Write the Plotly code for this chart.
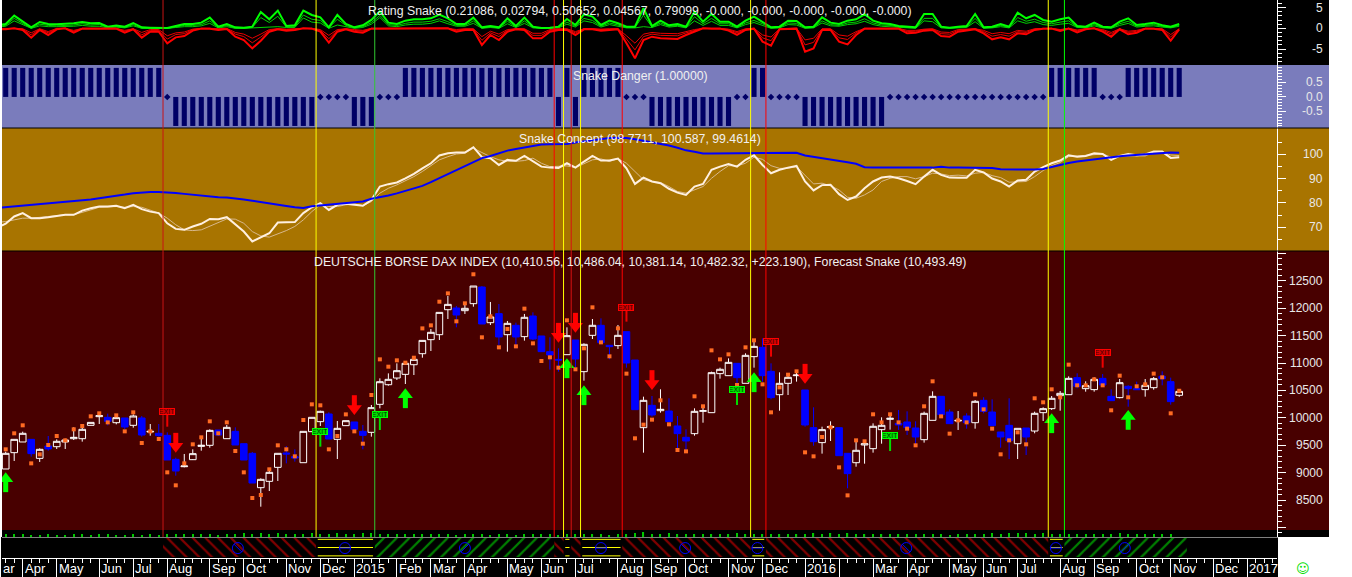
import plotly.graph_objects as go

W, H = 1352, 577
FONT = "Liberation Sans"

# ---------------- price pane data (one value per weekly bar) ----------------
opens = [9066,9364,9559,9607,9260,9486,9473,9559,9619,9619,9863,10021,10009,9911,9997,9863,9997,9741,9717,9680,
 9242,9108,9236,9479,9498,9777,9619,9753,9528,9352,8725,8841,9096,9358,9291,9181,9747,9930,10070,9607,
 9857,9924,9753,9735,10246,10604,10726,10793,10969,11170,11426,11517,11973,12004,11955,12083,12387,11736,11901,11517,
 11688,11481,11858,11493,11207,11067,11152,11420,10842,11505,11688,11323,11317,11572,11055,9820,10228,10130,10124,9851,
 9644,9711,10118,10094,10806,10769,10994,10629,11116,11286,10848,10422,10629,10769,10508,9820,9547,9826,9820,9352,
 9181,9504,9437,9784,9972,9899,9924,9814,9601,9954,10392,10106,9942,10033,9911,10319,10106,9741,9863,9528,
 9814,9759,10094,10167,10404,10422,10733,10532,10514,10720,10392,10368,10575,10532,10514,10550,10757,10660,10410.56]
closes = [9352,9607,9717,9346,9425,9431,9571,9595,9644,9790,9917,10039,9936,10003,9832,10033,9686,9753,9674,9230,
 9029,9121,9346,9498,9771,9686,9826,9504,9230,8810,8877,9005,9352,9340,9267,9753,10009,10118,9613,9808,
 9948,9790,9680,10185,10659,10702,10860,10994,11067,11413,11560,11924,12070,11876,11998,12405,11712,11840,11475,11724,
 11475,11834,11438,11207,11146,11055,11499,11073,11341,11688,11371,11298,11505,11000,10149,10319,10051,10155,9930,9711,
 9577,10118,10130,10824,10885,11012,10733,11140,11304,10769,10368,10629,10739,10781,9869,9565,9784,9838,9309,8981,
 9407,9528,9845,9863,9991,9869,9820,9650,10082,10392,10058,9893,9954,9911,10301,10118,9857,9650,9583,9808,
 9650,10082,10167,10356,10447,10720,10575,10587,10702,10599,10313,10641,10532,10514,10593,10714,10714,10295,10482.32]
highs = [9382,9607,9747,9607,9443,9668,9607,9619,9826,9820,9917,10082,10076,10033,9997,10063,10033,9887,9887,9735,
 9273,9340,9425,9656,9790,9777,9869,9826,9528,9376,8896,9078,9352,9486,9425,9753,10009,10130,10100,9942,
 9948,9924,9869,10234,10720,10811,10994,10994,11103,11413,11620,11924,12223,12041,12101,12405,12405,12114,12077,11767,
 11736,11895,11925,11493,11469,11268,11651,11420,11359,11803,11815,11323,11694,11572,11055,10386,10398,10520,10356,10033,
 9790,10173,10216,10842,10915,11085,10994,11177,11390,11450,10994,10830,10787,10873,10508,10191,9838,9936,9820,9352,
 9565,9546,9899,10009,10033,10143,10118,9936,10112,10483,10392,10155,10124,10082,10325,10374,10337,9741,10356,9808,
 9814,10112,10191,10398,10489,10757,10812,10666,10739,10800,10520,10708,10593,10660,10708,10745,10848,10733,10486.04]
lows = [9066,9212,9559,9291,9194,9400,9431,9431,9595,9565,9863,9887,9863,9881,9790,9820,9656,9674,9656,9230,
 8944,9096,9230,9400,9455,9668,9619,9504,9230,8810,8378,8664,8847,9169,9200,9181,9747,9851,9613,9248,
 9857,9790,9425,9656,10173,10586,10690,10617,10781,11097,11219,11420,11803,11651,11895,12028,11712,11694,11329,11207,
 11268,11408,11420,11207,10879,10842,11152,10921,10678,11438,11359,11067,11256,10915,10149,9364,10021,10094,9930,9425,
 9382,9674,9911,10094,10714,10769,10617,10629,10915,10660,10337,10130,10416,10660,9838,9492,9346,9577,9309,8713,
 9108,9163,9364,9528,9784,9778,9686,9504,9547,9954,10058,9893,9778,9802,9802,10082,9857,9455,9248,9248,
 9321,9717,9942,10143,10130,10422,10538,10477,10477,10599,10313,10356,10203,10514,10386,10514,10593,10240,10381.14]
forecast = [9425,9717,9863,9169,9333,9504,9668,9589,9790,9851,10027,10082,9917,10045,9753,10100,9540,9753,9613,9005,
 8768,9169,9516,9644,9936,9717,9917,9394,9005,8537,8591,9060,9498,9425,9297,9960,10246,10228,9425,9668,
 10063,9753,9528,10416,11067,10933,11049,11006,11097,11632,11687,12119,12271,11761,12089,12619,11469,11852,11286,11621,
 11304,11992,11359,11037,11104,10915,11779,10885,11268,12016,11377,11122,11633,10806,9626,9875,9966,10319,9881,9413,
 9388,10392,10210,11231,11067,11158,10599,11286,11414,10611,10100,10556,10787,10848,9370,9297,9650,9826,9096,8585,
 9589,9571,10064,9917,10064,9917,9802,9498,10210,10666,10027,9711,9954,9917,10428,10155,9802,9334,9589,9735,
 9516,10356,10283,10520,10374,10970,10593,10593,10702,10593,10137,10769,10374,10575,10611,10806,10739,10082,10493.49]

# ---------------- rating pane (first value belongs to the bar just off the left edge) ----------------
rating_green = [.8,1.05,3.06,1.61,.24,1.53,1.05,.97,1.05,1.21,1.53,1.21,1.29,.4,.65,.4,1.29,.24,.16,.16,.08,
 .56,1.05,1.05,1.37,2.58,.4,1.05,.24,.16,.4,3.95,2.18,4.27,.56,.73,4.27,3.23,2.66,.24,3.23,
 1.05,.24,.73,2.02,4.11,1.37,1.05,1.85,2.18,2.18,2.42,3.31,2.42,
 1.05,1.05,2.58,.24,.56,.24,2.42,.56,2.58,.4,.08,.16,.4,2.26,.81,3.39,2.82,.81,1.85,1.21,
 .4,.4,4.84,.56,1.85,.73,1.05,.4,4.03,1.61,3.47,1.61,1.61,.4,1.85,2.82,1.61,.24,.4,1.85,
 1.77,.24,.4,2.66,1.37,1.05,1.85,2.18,3.39,1.85,1.21,1.05,.56,
 .4,.24,3.47,3.47,.4,.16,.4,.56,3.47,.24,.4,1.05,.4,3.79,2.42,3.23,2.02,1.61,2.18,2.58,
 .56,.4,1.37,.4,.24,1.61,2.42,.81,1.05,1.37,.73,.4,1.05]
rating_red = [-.2,-.24,0,-.4,-2.26,-.4,-1.61,-.24,0,-1.05,-.08,-.08,-.16,-.08,-.08,-1.05,-.24,-2.26,-.81,-.81,-3.63,
 -2.18,-1.85,-.56,-.08,-.08,-.4,-.16,-2.02,-2.82,-4.84,-2.98,-.81,-.24,-.56,-.4,0,-.08,-.81,-3.47,-.81,
 -.24,-.81,-1.05,-.08,-.08,-.08,-.08,-.08,-.08,-.08,-.08,0,0,
 -.81,-.4,-.4,-4.03,-1.61,-2.82,-.81,-.24,-.4,-2.42,-2.42,-.81,-.4,-.4,-1.61,-.24,-.24,-.56,-.4,-.24,
 -3.63,-7.25,-2.82,-2.02,-2.42,-2.58,-2.58,-1.61,-.81,0,-.08,-.08,-.56,-1.61,-.4,-.08,-3.22,-4.19,-.24,-.08,
 -.08,-5.64,-4.84,-.4,-.4,-3.22,-3.87,-1.61,-.08,-.08,-.08,-.08,-.08,
 -1.21,-1.05,-.56,-.4,-1.85,-2.02,-.81,-.56,-.24,-1.21,-2.66,-2.18,-2.66,-1.21,-1.45,-.4,-.08,-.08,-.64,-.08,
 -.97,-.24,0,-.81,-2.02,-.24,-1.45,-1.05,-.08,-.08,-.4,-2.98,-.24]
rating_green_thin = [.3,0.5,1.8,0.8,0,0.6,0.4,0.4,0.4,0.5,0.7,0.5,0.5,0.1,0.3,0.1,0.6,0,0,0,0,
 0.2,0.4,0.4,0.6,1.2,0.1,0.4,0,0,0.1,0.3,0.3,0.4,0.2,0.2,2.5,1.5,1.3,0,0.8,0.4,0,0.2,1.0,2.6,0.6,0.4,0.8,1.0,1.0,1.2,1.8,1.1,
 0.5,0.5,1.2,0,0.2,0,1.1,0.2,1.2,0.1,0,0,0.1,1.0,0.3,1.8,1.4,0.3,0.9,0.5,
 0.1,0.1,0.4,0.2,0.9,0.3,0.5,0.1,1.8,0.7,1.7,0.7,0.7,0.1,0.9,1.4,0.7,0,0.1,0.9,
 0.8,0,0.1,1.3,0.6,0.5,0.9,1.1,1.7,0.9,0.5,0.4,0.2,
 0.1,0,1.8,1.6,0.1,0,0.1,0.2,1.6,0,0.1,0.4,0.1,1.8,1.2,1.6,0.9,0.7,1.0,1.2,
 0.2,0.1,0.6,0.1,0,0.7,1.2,0.3,0.5,0.6,0.3,0.1,0.5]
rating_green_thin2 = [.5,.7,2.4,1.1,0,1.0,.7,.6,.7,.8,1.1,.8,.9,.2,.4,.2,.9,0,0,0,0,.3,.7,.7,.9,1.8,.2,.7,0,0,.2,2.6,1.4,2.9,.3,.4,3.2,2.2,1.9,.1,2.2,.7,.1,.4,1.4,3.1,.9,.7,1.2,1.5,1.5,1.7,2.3,1.6,
 .7,.7,1.8,.1,.3,.1,1.7,.3,1.8,.2,0,0,.2,1.5,.5,2.4,1.9,.5,1.3,.8,.2,.2,3.2,.3,1.3,.5,.7,.2,2.8,1.1,2.4,1.1,1.1,.2,1.3,1.9,1.1,.1,.2,1.3,1.2,.1,.2,1.8,.9,.7,1.3,1.5,2.3,1.3,.8,.7,.3,
 .2,.1,2.4,2.4,.2,.1,.2,.3,2.4,.1,.2,.7,.2,2.6,1.7,2.2,1.4,1.1,1.5,1.8,.3,.2,.9,.2,.1,1.1,1.7,.5,.7,.9,.5,.2,.7]
rating_red_thin = [0,0,0,-0.1,-1.1,-0.1,-0.8,0,0,-0.5,0,0,0,0,0,-0.5,-0.1,-1.0,-0.3,-0.3,-1.8,
 -1.1,-0.9,-0.2,0,0,-0.1,0,-1.0,-1.4,-2.4,-1.4,-0.3,-0.1,-0.2,-0.1,0,0,-0.3,-1.7,-0.3,-0.1,-0.3,-0.5,0,0,0,0,0,0,0,0,0,0,
 -0.3,-0.1,-0.1,-2.0,-0.7,-1.4,-0.3,-0.1,-0.1,-1.2,-1.2,-0.3,-0.1,-0.1,-0.8,-0.1,-0.1,-0.2,-0.1,-0.1,
 -1.8,-3.6,-1.4,-1.0,-1.2,-1.3,-1.3,-0.8,-0.3,0,0,0,-0.2,-0.8,-0.1,0,-1.6,-2.1,-0.1,0,
 0,-2.8,-2.4,-0.1,-0.1,-1.6,-1.9,-0.8,0,0,0,0,0,
 -0.5,-0.5,-0.2,-0.1,-0.9,-1.0,-0.3,-0.2,-0.1,-0.5,-1.3,-1.0,-1.3,-0.5,-0.7,-0.1,0,0,-0.3,0,
 -0.4,-0.1,0,-0.3,-1.0,-0.1,-0.7,-0.5,0,0,-0.1,-1.5,-0.1]
rating_red_thin2 = [-.1,-.1,0,-.2,-1.6,-.2,-1.1,-.1,0,-.7,0,0,0,0,0,-.7,-.1,-1.6,-.5,-.5,-2.6,-1.5,-1.3,-.3,0,0,-.2,-.1,-1.4,-2.0,-3.5,-2.1,-.5,-.1,-.3,-.2,0,0,-.5,-2.5,-.5,-.1,-.5,-.7,0,0,0,0,0,0,0,0,0,0,
 -.5,-.2,-.2,-2.9,-1.1,-2.0,-.5,-.1,-.2,-1.7,-1.7,-.5,-.2,-.2,-1.1,-.1,-.1,-.3,-.2,-.1,-2.6,-5.2,-2.0,-1.4,-1.7,-1.8,-1.8,-1.1,-.5,0,0,0,-.3,-1.1,-.2,0,-2.3,-3.0,-.1,0,0,-4.0,-3.4,-.2,-.2,-2.3,-2.7,-1.1,0,0,0,0,0,
 -.8,-.7,-.3,-.2,-1.3,-1.4,-.5,-.3,-.1,-.8,-1.9,-1.5,-1.9,-.8,-1.0,-.2,0,0,-.4,0,-.6,-.1,0,-.5,-1.4,-.1,-1.0,-.7,0,0,-.2,-2.1,-.1]

# ---------------- danger pane (+1 / 0 / -1) ----------------
danger = [1]*19 + [0] + [-1]*17 + [0]*4 + [-1]*3 + [0]*3 + [1]*18 + [-1,1,-1] + [1]*5 + [0]*3 + [-1]*10 \
         + [0]*2 + [1]*2 + [0]*4 + [-1]*10 + [0]*19 + [1]*6 + [0]*3 + [1]*7

# ---------------- concept pane (first value belongs to the bar just off the left edge) ----------------
concept_white = [69.8,71.4,74.4,75.8,73.7,73.7,74.1,74.7,75.1,75.1,76.8,77.8,78.5,78.5,78.8,77.8,79.2,77.4,76.4,75.8,71.6,
 69.3,68.9,70.3,71.4,73.4,73.3,74.1,71.0,68.2,64.1,65.8,67.5,71.9,72.1,72.1,75.8,78.2,79.9,77.1,79.2,
 79.6,79.2,78.8,81.2,86.7,87.7,88.4,90.1,91.9,94.2,96.3,99.5,100.4,
 100.7,100.7,102.9,98.8,98.4,95.6,97.7,97.3,99.3,97.0,94.9,94.5,94.4,96.3,94.5,97,99.3,97.4,97.4,98.2,
 94.2,87.8,90.4,88.8,88.1,85.8,84.2,83.3,86.7,87.8,93.6,94.9,96.0,94.9,97.7,99.6,95.6,92.2,93.6,94.5,
 95.2,88.8,85.1,87.3,87.4,83.6,81.2,82.6,86.0,88.8,90.4,90.8,90.1,
 89,87.7,90.8,93.6,91.5,90.4,90.3,90.3,93.6,92.5,90,88.8,86.7,89.2,89.5,92.9,94.7,96.3,97.4,99.6,
 99,99.3,100.4,100.1,97.7,99.3,100.1,99.6,99.9,101.1,101.1,98.5,98.77]
concept_thin = [72,72.3,73,73.7,73.7,74.1,74.4,74.7,75.1,75.1,76,77.1,78.2,78.5,78.5,78.2,78.5,78.2,77.1,75.8,73.7,
 71,68.9,68.6,68.9,70.3,71.9,73.4,73.3,71.6,68.2,66.4,65.9,67.1,68.6,70.3,73,76.4,79.2,78.5,78.5,
 79.2,79.6,78.8,80.5,84,86,87.4,89,90.8,92.9,95.2,97.7,99,
 100.1,100.4,102.5,100.7,99,97.7,97.1,97.1,97.4,98.4,96.3,94.9,94.9,95.2,94.5,96,97.7,98.1,97,98.2,
 96.3,92.9,89.5,88.8,88.4,86.7,84.7,84,85.3,86.7,90.1,92.9,95.3,95.2,96.3,98.8,97.9,95.3,94.2,94.2,
 94.9,91.5,87.8,88.1,87,85.3,82.3,81.9,83.3,85.3,88.8,90.1,90.8,
 90.8,89.9,90.8,92.2,91.9,91.2,91.4,91.1,92.2,92.5,91.2,90.4,88.5,88.5,88.8,90.8,93.3,95.3,96.6,99,
 99.3,99.7,100.1,100.1,98.8,99.3,99.3,99.3,99.3,100.7,101.1,99.7,99.46]
concept_blue = [77.9,78.2,78.6,78.9,79.3,79.6,79.8,80.1,80.4,80.8,81.0,81.4,81.9,82.3,82.9,83.4,84.0,84.4,84.5,84.5,84.4,
 84.1,83.7,83.3,82.9,82.4,82.3,82.2,81.9,81.4,80.9,80.3,79.7,79.0,78.7,78.2,77.9,78.6,78.9,79.3,79.6,
 80.0,80.4,80.6,81.7,82.2,83.0,83.9,84.9,85.8,87.0,88.5,90.2,91.7,
 93.3,95.2,96.8,98.4,99.3,100.4,101.5,102.2,102.9,103.4,104,104.1,104.1,104.2,104.8,105.3,105.8,106.3,106.7,106.8,
 106.7,106.2,105.6,104.8,104.1,103.6,102.7,101.6,101.0,100.3,100.3,100.3,100.3,100.3,100.3,100.5,100.6,100.6,100.6,100.6,
 100.6,99.5,99.0,98.3,97.9,97.2,96.7,96.1,94.7,94.6,94.5,94.5,94.5,
 94.5,94.5,94.5,94.5,94.9,94.5,94.5,94.5,94.5,94.5,94.3,93.8,93.7,93.7,93.7,93.7,93.9,94.8,95.5,96.4,
 97.0,97.5,97.9,98.5,98.9,99.2,99.5,99.8,100.1,100.4,100.6,100.7,100.587]

# small green volume ticks under the price pane
volume = [3,3,3,2,2,3,2,2,3,3,2,3,3,2,2,3,2,3,2,3,3,3,3,3,3,2,3,3,4,3,4,3,4,3,3,3,4,3,3,4,3,3,4,4,3,3,3,3,3,3,3,3,3,
 2,3,3,3,2,3,3,2,3,3,3,3,2,3,3,3,3,3,2,3,3,4,5,3,3,4,3,3,3,3,3,3,3,4,3,3,3,3,3,3,3,3,4,3,4,3,4,3,3,3,3,3,3,3,
 3,3,3,3,2,3,3,3,3,4,3,4,4,4,3,4,3,3,3,3,3,3,3,3,4,3,3,3,3,3,3]

# ---------------- signals (bar index / price) ----------------
up_bars = [0,47,66,68,88,123,132]
up_tips = [9005,10538,11085,10593,10830,10082,10143]
down_bars = [20,41,65,67,76,94]
down_tips = [9364,10051,11371,11554,10508,10623]
exit_red_bars = [19,73,90,129]
exit_red_flag = [10112,12022,11390,11183]
exit_red_foot = [9838,11755,11116,10915]
exit_green_bars = [37,44,86,104]
exit_green_flag = [9747,10063,10514,9674]
exit_green_foot = [9473,9778,10234,9394]

# ---------------- vertical signal lines ----------------
vline_pos = [18.5,36.5,43.4,64.5,65.6,66.5,67.6,72.5,87.6,89.4,122.6,124.5]
vline_col = ["#c81414","#ffff00","#30c830","#ff0000","#ffff00","#d81010","#ffff00","#ff0000","#ffff00","#ff0000","#ffff00","#00ff00"]

# ---------------- regime band ----------------
regime_start = [18.5,36.5,43.4,64.5,65.6,66.5,67.6,72.5,87.6,89.4,122.6,124.5]
regime_end = [36.5,43.4,64.5,65.6,66.5,67.6,72.5,87.6,89.4,122.6,124.5,138.9]
regime_kind = ["red","yellow","green","red","yellow","red","yellow","red","yellow","red","yellow","green"]
icon_pos = [27.3,39.9,54,70,79.9,88.4,105.9,123.5,131.6]
icon_kind = ["line-nw","line-ew","line-ne","line-ew","line-nw","line-ew","line-nw","line-ew","line-ne"]

# ---------------- time axis ----------------
month_ticks = [2,6,11,15,19,24,28,33,37,41,46,50,54,59,63,67,72,76,80,85,89,94,98,102,106,111,115,119,124,128,133,137,142,146]
month_labels = ["Apr","May","Jun","Jul","Aug","Sep","Oct","Nov","Dec","2015","Feb","Mar","Apr","May","Jun","Jul","Aug","Sep","Oct","Nov","Dec","2016","","Mar","Apr","May","Jun","Jul","Aug","Sep","Oct","Nov","Dec","2017"]

# ---------------- titles ----------------
title_rating = "Rating Snake (0.21086, 0.02794, 0.50652, 0.04567, 0.79099, -0.000, -0.000, -0.000, -0.000, -0.000)"
title_danger = "Snake Danger (1.00000)"
title_concept = "Snake Concept (98.7711, 100.587, 99.4614)"
title_price = "DEUTSCHE BORSE DAX INDEX (10,410.56, 10,486.04, 10,381.14, 10,482.32, +223.190), Forecast Snake (10,493.49)"

bars = list(range(len(closes)))
line_x = [-1] + bars
PX_PRICE = 18.25  # price units per pixel in the price pane
fig = go.Figure()
def py(y): return 1 - y / H
def px(x): return x / W

# price axis
fig.add_trace(go.Candlestick(x=bars, open=opens, high=highs, low=lows, close=closes, yaxis="y4", xaxis="x",
    increasing=dict(line=dict(color="#ffffff", width=1), fillcolor="#480000"),
    decreasing=dict(line=dict(color="#0000ff", width=1), fillcolor="#0000ff"),
    whiskerwidth=0, hoverinfo="skip"))
fig.add_trace(go.Scatter(x=bars, y=forecast, mode="markers", yaxis="y4",
    marker=dict(symbol="square", size=4, color="#ff6a22", line=dict(width=0))))

# arrows built from the library's markers
def arrows(bx, tips, color, sign, head):
    fig.add_trace(go.Scatter(x=bx, y=[t - sign*13.5*PX_PRICE for t in tips], mode="markers", yaxis="y4",
        marker=dict(symbol="line-ns", size=9, line=dict(width=5, color=color), color=color)))
    fig.add_trace(go.Scatter(x=bx, y=[t - sign*6.5*PX_PRICE for t in tips], mode="markers", yaxis="y4",
        marker=dict(symbol=head, size=13, color=color, line=dict(width=0))))
arrows(up_bars, up_tips, "#00ff00", 1, "triangle-up")
arrows(down_bars, down_tips, "#ff0000", -1, "triangle-down")

def poles(bx, flag, foot, color):
    xs, ys = [], []
    for b, f, t in zip(bx, flag, foot):
        xs += [b, b, None]; ys += [f, t, None]
    fig.add_trace(go.Scatter(x=xs, y=ys, mode="lines", yaxis="y4", line=dict(color=color, width=2)))
poles(exit_red_bars, exit_red_flag, exit_red_foot, "#ee0000")
poles(exit_green_bars, exit_green_flag, exit_green_foot, "#00dd00")

# rating
for series, col, wid in [(rating_green_thin, "#00d000", 1), (rating_green_thin2, "#00d000", 1), (rating_green, "#00ff00", 2),
                         (rating_red_thin, "#e80000", 1), (rating_red_thin2, "#e80000", 1), (rating_red, "#ff0000", 2)]:
    fig.add_trace(go.Scatter(x=line_x, y=series, mode="lines", yaxis="y", line=dict(color=col, width=wid)))

# danger
fig.add_trace(go.Bar(x=bars, y=danger, width=0.6, yaxis="y2", marker=dict(color="#000066", line=dict(width=0))))
fig.add_trace(go.Scatter(x=[b for b, d in zip(bars, danger) if d == 0], y=[0]*danger.count(0), mode="markers", yaxis="y2",
    marker=dict(symbol="diamond", size=5, color="#000066", line=dict(width=0))))

# concept
fig.add_trace(go.Scatter(x=line_x, y=concept_thin, mode="lines", yaxis="y3", line=dict(color="#d8b88c", width=1)))
fig.add_trace(go.Scatter(x=line_x, y=concept_white, mode="lines", yaxis="y3", line=dict(color="#fff0e0", width=2)))
fig.add_trace(go.Scatter(x=line_x, y=concept_blue, mode="lines", yaxis="y3", line=dict(color="#0000ff", width=2)))

# volume
fig.add_trace(go.Bar(x=bars, y=volume, width=0.14, yaxis="y5", marker=dict(color="#00c800", line=dict(width=0))))

# regime band
hatch = {"red": ("\\", "#ff0000"), "green": ("/", "#00ff00")}
for kind in ("red", "green"):
    idx = [i for i, k in enumerate(regime_kind) if k == kind]
    fig.add_trace(go.Bar(x=[(regime_start[i] + regime_end[i]) / 2 for i in idx], y=[1]*len(idx),
        width=[regime_end[i] - regime_start[i] for i in idx], yaxis="y6",
        marker=dict(color="#000000", line=dict(width=0),
                    pattern=dict(shape=hatch[kind][0], fgcolor=hatch[kind][1], bgcolor="#000000", size=9, solidity=0.25))))
for level in (0.06, 0.5, 0.93):
    xs, ys = [], []
    for s, e, k in zip(regime_start, regime_end, regime_kind):
        if k == "yellow":
            xs += [s + 0.2, e - 0.2, None]; ys += [level, level, None]
    fig.add_trace(go.Scatter(x=xs, y=ys, mode="lines", yaxis="y6", line=dict(color="#ffff00", width=1)))
fig.add_trace(go.Scatter(x=icon_pos, y=[0.47]*len(icon_pos), mode="markers", yaxis="y6",
    marker=dict(symbol="circle-open", size=11, color="#0000ff", line=dict(width=1, color="#0000ff"))))
for sym in ("line-nw", "line-ne", "line-ew"):
    sel = [p for p, k in zip(icon_pos, icon_kind) if k == sym]
    fig.add_trace(go.Scatter(x=sel, y=[0.47]*len(sel), mode="markers", yaxis="y6",
        marker=dict(symbol=sym, size=8, line=dict(width=1, color="#0000ff"))))

# panes
panes = [(0, 65, "#000000"), (65, 128, "#7a7cbc"), (128, 251, "#a87400"), (251, 530, "#480000"), (530, 537, "#000000")]
shapes = []
for top, bot, col in panes:
    shapes.append(dict(type="rect", xref="paper", yref="paper", x0=px(2), x1=px(1329), y0=py(bot), y1=py(top),
                       fillcolor=col, line=dict(width=0), layer="below"))
shapes.append(dict(type="rect", xref="paper", yref="paper", x0=px(1), x1=px(1278), y0=0, y1=py(537),
                   fillcolor="#000000", line=dict(width=0), layer="below"))
for y, col, x1 in [(128, "#000000", 1329), (251, "#000000", 1329), (537.5, "#808080", 1278)]:
    shapes.append(dict(type="line", xref="paper", yref="paper", x0=px(2), x1=px(x1), y0=py(y), y1=py(y),
                       line=dict(color=col, width=1)))
for p, c in zip(vline_pos, vline_col):
    shapes.append(dict(type="line", xref="x", yref="paper", x0=p, x1=p, y0=py(537), y1=1, line=dict(color=c, width=1)))

# annotations
ann = []
for text, x, y in [(title_rating, 640, 11), (title_danger, 640, 75.5), (title_concept, 640, 139.5), (title_price, 640, 262.5)]:
    ann.append(dict(text=text, x=px(x), y=py(y), xref="paper", yref="paper", showarrow=False, xanchor="center", yanchor="middle",
                    font=dict(family=FONT, size=12.3, color="#f0f0f0")))
def ylabels(vals, axis):
    for v in vals:
        ann.append(dict(text=str(v), x=px(1325), y=v, xref="paper", yref=axis, showarrow=False, xanchor="right", yanchor="middle",
                        font=dict(family=FONT, size=12, color="#e8e8e8")))
ylabels([5, 0, -5], "y")
ylabels(["0.5", "0.0", "-0.5"], "y2")
ylabels([100, 90, 80, 70], "y3")
ylabels([12500, 12000, 11500, 11000, 10500, 10000, 9500, 9000, 8500], "y4")
ann.append(dict(text="ar", x=px(1), y=py(568.5), xref="paper", yref="paper", xanchor="left", yanchor="middle", showarrow=False,
                font=dict(family=FONT, size=13, color="#ffffff")))
for t, lab in zip(month_ticks, month_labels):
    if lab:
        ann.append(dict(text=lab, x=t, y=py(568.5), xref="x", yref="paper", xanchor="left", yanchor="middle", showarrow=False,
                        font=dict(family=FONT, size=13, color="#ffffff")))
for bx, fy, col, fill, txt in [(exit_red_bars, exit_red_flag, "#ff0000", "#d00000", "#4a0000"),
                               (exit_green_bars, exit_green_flag, "#00ff00", "#00dd00", "#003300")]:
    for b, f in zip(bx, fy):
        ann.append(dict(text="EXIT", x=b, y=f, xref="x", yref="y4", showarrow=False, width=14, height=5, borderwidth=1, borderpad=0,
                        bordercolor=col, bgcolor=fill, xanchor="center", yanchor="middle",
                        font=dict(family=FONT, size=7, color=txt)))
ann.append(dict(text="☺", x=px(1303), y=py(568), xref="paper", yref="paper", showarrow=False, xanchor="center", yanchor="middle",
                font=dict(family="DejaVu Sans", size=13, color="#00dd00")))

def yaxis(top, bot, lo, hi, major, minor, **kw):
    return dict(domain=[py(bot), py(top)], range=[lo, hi], side="right", anchor="x", showgrid=False, zeroline=False,
                showline=True, linecolor="#ffffff", linewidth=1, ticks="outside", tickcolor="#ffffff", ticklen=8, tickwidth=1,
                tickvals=major, showticklabels=False,
                minor=dict(tickvals=minor, ticks="outside", ticklen=4, tickcolor="#ffffff", tickwidth=1, showgrid=False), **kw)

fig.update_layout(
    width=W, height=H, margin=dict(l=0, r=0, t=0, b=0), paper_bgcolor="#ffffff", plot_bgcolor="rgba(0,0,0,0)",
    showlegend=False, hovermode=False, boxgap=0.22, boxgroupgap=0, barmode="overlay", shapes=shapes, annotations=ann,
    xaxis=dict(domain=[px(2), px(1277)], range=[-0.435, 149.5], anchor="free", position=py(558), side="bottom",
               showgrid=False, zeroline=False, rangeslider=dict(visible=False), showline=True, linecolor="#ffffff", linewidth=1,
               ticks="outside", tickcolor="#ffffff", ticklen=19, tickwidth=1, tickvals=month_ticks, showticklabels=False,
               minor=dict(tickvals=list(range(0, 150)), ticks="outside", ticklen=4, tickcolor="#ffffff", tickwidth=1, showgrid=False)),
    yaxis=yaxis(0, 65, -8.86, 6.84, [5, 0, -5], list(range(-8, 7))),
    yaxis2=yaxis(65, 128, -1.07, 1.10, [0.5, 0, -0.5], [i / 10 for i in range(-10, 11)]),
    yaxis3=yaxis(128, 251, 60.2, 110.8, [100, 90, 80, 70], [65, 75, 85, 95, 105]),
    yaxis4=yaxis(251, 537, 7825, 13044, list(range(8000, 13001, 500)), list(range(7900, 13001, 100))),
    yaxis5=dict(domain=[py(537), py(530)], range=[0, 7], anchor="x", visible=False),
    yaxis6=dict(domain=[py(557), py(538)], range=[0, 1], anchor="x", visible=False),
)
fig.write_html("out.html", config={"displayModeBar": False},
               post_script="document.body.style.margin='0';document.body.style.overflow='hidden';")
